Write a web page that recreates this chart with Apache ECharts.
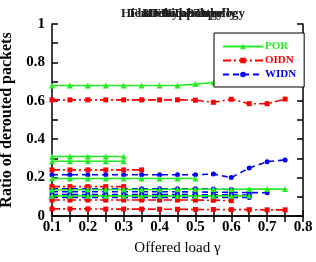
<!DOCTYPE html>
<html><head><meta charset="utf-8">
<script src="https://cdn.jsdelivr.net/npm/echarts@6/dist/echarts.min.js"></script>
<style>html,body{margin:0;padding:0;background:#fff}#c{width:316px;height:262px}</style>
</head><body><div id="c"></div>
<script>
// Offered load values (x)
var loads = [0.1,0.15,0.2,0.25,0.3,0.35,0.4,0.45,0.5,0.55,0.6,0.65,0.7,0.75];
var titles = ['3D Hypercube','HFB Topology','Flattened Butterfly','Hierarchical Topology'];
var xTicks = ['0.1','0.2','0.3','0.4','0.5','0.6','0.7','0.8'];
var yTicks = ['0','0.2','0.4','0.6','0.8','1'];
// POR series
var por1 = [0.68,0.68,0.68,0.68,0.68,0.68,0.68,0.68,0.687,0.695];
var por2 = [0.31,0.31,0.31,0.31,0.31];
var por3 = [0.285,0.285,0.285,0.285,0.285];
var por4 = [0.195,0.195,0.195,0.195,0.195,0.195,0.195,0.195,0.195];
var por5 = [0.137,0.137,0.138,0.138,0.138,0.138,0.138,0.139,0.139,0.139,0.139,0.14,0.14,0.14];
var por6 = [0.105,0.105,0.105,0.105,0.105,0.105,0.105,0.105,0.105,0.105,0.105,0.105];
// OIDN series
var oidn1 = [0.605,0.605,0.605,0.605,0.605,0.605,0.605,0.605,0.603,0.592,0.608,0.585,0.585,0.609];
var oidn2 = [0.24,0.24,0.24,0.24,0.24,0.24];
var oidn3 = [0.153,0.153,0.153,0.153,0.153];
var oidn4 = [0.083,0.083,0.083,0.083,0.083,0.083,0.083,0.083,0.083,0.082,0.08];
var oidn5 = [0.037,0.037,0.037,0.036,0.036,0.036,0.035,0.035,0.034,0.034,0.033,0.033,0.032,0.032];
// WIDN series
var widn1 = [0.215,0.215,0.215,0.215,0.215,0.215,0.215,0.215,0.215,0.219,0.2,0.25,0.283,0.292];
var widn2 = [0.142,0.142,0.142,0.142,0.142,0.142,0.142,0.142,0.142,0.14,0.138];
var widn3 = [0.126,0.126,0.126,0.126,0.126,0.126,0.126,0.126,0.125,0.124,0.123,0.122,0.121];
var widn4 = [0.112,0.112,0.112,0.112,0.112,0.112,0.112,0.112,0.111,0.11,0.11,0.109];
var widn5 = [0.097,0.097,0.097,0.097,0.097,0.097,0.097,0.097,0.097,0.097,0.097,0.097];

var GREEN = '#22ee22', RED = '#ff0000', BLUE = '#0000ff';
var font = 'Liberation Serif';

function pairs(vals){ return vals.map(function(v,i){ return [loads[i], v]; }); }
function mk(name, vals, color, sym, dash){
  return {name:name, type:'line', data:pairs(vals), symbol:sym, symbolSize: sym==='triangle'?6:5,
    showSymbol:true, animation:false,
    lineStyle:{color:color, width:1.6, type:dash},
    itemStyle:{color:color}};
}
var series = [];
[widn1,widn2,widn3,widn4,widn5].forEach(function(a){ series.push(mk('WIDN',a,BLUE,'circle',[6,4])); });
[oidn1,oidn2,oidn3,oidn4,oidn5].forEach(function(a){ series.push(mk('OIDN',a,RED,'rect',[8,3,2,3])); });
[por1,por2,por3,por4,por5,por6].forEach(function(a){ series.push(mk('POR',a,GREEN,'triangle','solid')); });

var titleOpts = titles.map(function(t){
  return {text:t, left:178, top:2, textAlign:'center',
    textStyle:{fontFamily:font, fontSize:13, fontWeight:'bold', color:'#222'}};
});

var chart = echarts.init(document.getElementById('c'), null, {renderer:'canvas'});
chart.setOption({
  backgroundColor:'#fff',
  animation:false,
  title: titleOpts,
  grid:{left:52, right:13, top:24, bottom:46, containLabel:false, outerBoundsMode:'none'},
  legend:{
    data:[{name:'POR', textStyle:{color:GREEN}},{name:'OIDN', textStyle:{color:RED}},{name:'WIDN', textStyle:{color:BLUE}}],
    orient:'vertical', left:214, top:33, itemWidth:40, itemHeight:7, itemGap:3,
    padding:[8,8,7,8], backgroundColor:'#fff', borderColor:'#000', borderWidth:1, borderRadius:0,
    textStyle:{fontFamily:font, fontSize:11, fontWeight:'bold', padding:[0,0,0,-3]}
  },
  xAxis:[{
    type:'value', min:0.1, max:0.8, interval:0.1,
    name:'Offered load \u03b3', nameLocation:'middle', nameGap:25,
    nameTextStyle:{fontFamily:font, fontSize:15, color:'#000'},
    axisLine:{lineStyle:{color:'#000', width:1.5}},
    axisTick:{inside:true, length:6, lineStyle:{color:'#000', width:1.5}},
    minorTick:{show:true, splitNumber:2, length:6, lineStyle:{color:'#000', width:1.5}},
    axisLabel:{fontFamily:font, fontSize:15, fontWeight:'bold', color:'#000', margin:4,
      formatter:function(v){ var s = v.toFixed(1); return xTicks.indexOf(s)>=0 ? s : ''; }},
    splitLine:{show:false}
  },{
    type:'value', position:'top', min:0.1, max:0.8, interval:0.1,
    axisLine:{show:true, lineStyle:{color:'#000', width:1.5}},
    axisTick:{inside:true, length:6, lineStyle:{color:'#000', width:1.5}},
    minorTick:{show:true, splitNumber:2, length:6, lineStyle:{color:'#000', width:1.5}},
    axisLabel:{show:false}, splitLine:{show:false}
  }],
  yAxis:[{
    type:'value', min:0, max:1, interval:0.2,
    name:'Ratio of derouted packets', nameLocation:'middle', nameGap:37,
    nameTextStyle:{fontFamily:font, fontSize:16, fontWeight:'bold', color:'#000'},
    axisLine:{show:true, lineStyle:{color:'#000', width:1.5}},
    axisTick:{inside:true, length:6, lineStyle:{color:'#000', width:1.5}},
    minorTick:{show:true, splitNumber:2, length:6, lineStyle:{color:'#000', width:1.5}},
    axisLabel:{fontFamily:font, fontSize:15, fontWeight:'bold', color:'#000', margin:7,
      formatter:function(v){ var s = (Math.round(v*10)/10).toString(); return yTicks.indexOf(s)>=0 ? s : ''; }},
    splitLine:{show:false}
  },{
    type:'value', position:'right', min:0, max:1, interval:0.2,
    axisLine:{show:true, lineStyle:{color:'#000', width:1.5}},
    axisTick:{inside:true, length:6, lineStyle:{color:'#000', width:1.5}},
    minorTick:{show:true, splitNumber:2, length:6, lineStyle:{color:'#000', width:1.5}},
    axisLabel:{show:false}, splitLine:{show:false}
  }],
  series: series
});
</script></body></html>
